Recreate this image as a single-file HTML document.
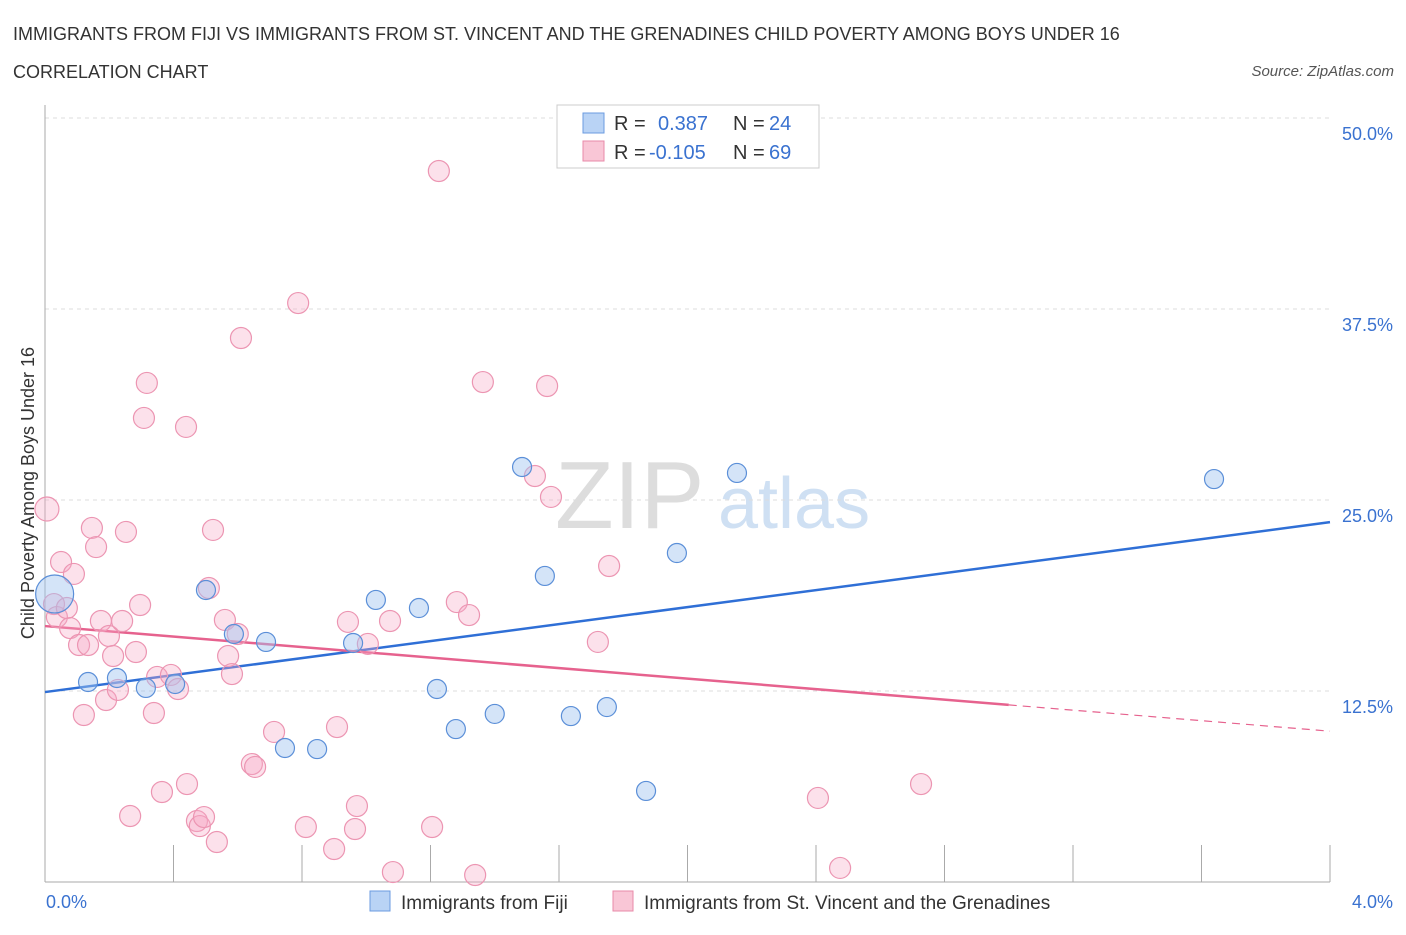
<!DOCTYPE html>
<html><head><meta charset="utf-8"><style>
body{margin:0;background:#fff;font-family:"Liberation Sans",sans-serif}
svg text{font-family:"Liberation Sans",sans-serif}
</style></head><body>
<svg id="chart" width="1406" height="930" xmlns="http://www.w3.org/2000/svg">
<text x="13" y="40" font-size="18" fill="#333">IMMIGRANTS FROM FIJI VS IMMIGRANTS FROM ST. VINCENT AND THE GRENADINES CHILD POVERTY AMONG BOYS UNDER 16</text>
<text x="13" y="78" font-size="18" fill="#333">CORRELATION CHART</text>
<text x="1394" y="76" font-size="15" fill="#555" font-style="italic" text-anchor="end">Source: ZipAtlas.com</text>
<g>
<text x="555" y="528" font-size="96" fill="#ddd" font-family="Liberation Serif, serif">ZIP</text>
<text x="718" y="528" font-size="72" fill="#cfe0f3">atlas</text>
</g>
<g id="grid"></g><g id="axes"></g><g id="lines"></g><g id="points"></g>
<g>
<rect x="557" y="105" width="262" height="63" fill="#fff" stroke="#ccc"/>
<rect x="583" y="113" width="21" height="20" fill="#b9d3f5" stroke="#6b9be0"/>
<rect x="583" y="141" width="21" height="20" fill="#f9c6d6" stroke="#e88aa8"/>
<text x="614" y="130" font-size="20" fill="#333">R = </text><text x="658" y="130" font-size="20" fill="#3a72d0">0.387</text>
<text x="733" y="130" font-size="20" fill="#333">N = </text><text x="769" y="130" font-size="20" fill="#3a72d0">24</text>
<text x="614" y="159" font-size="20" fill="#333">R = </text><text x="649" y="159" font-size="20" fill="#3a72d0">-0.105</text>
<text x="733" y="159" font-size="20" fill="#333">N = </text><text x="769" y="159" font-size="20" fill="#3a72d0">69</text>
</g>
<g>
<rect x="370" y="891" width="20" height="20" fill="#b9d3f5" stroke="#6b9be0"/>
<text x="401" y="909" font-size="19" fill="#333">Immigrants from Fiji</text>
<rect x="613" y="891" width="20" height="20" fill="#f9c6d6" stroke="#e88aa8"/>
<text x="644" y="909" font-size="19" fill="#333">Immigrants from St. Vincent and the Grenadines</text>
</g>
<text transform="translate(34,493) rotate(-90)" font-size="18" fill="#333" text-anchor="middle">Child Poverty Among Boys Under 16</text>
</svg>
<script>
const yTicks=[12.5,25,37.5,50];
const yTickLabels=["12.5%","25.0%","37.5%","50.0%"];
const xTickLabels=["0.0%","4.0%"];
const fijiX=[0.03,0.134,0.224,0.314,0.405,0.501,0.588,0.688,0.747,0.847,0.959,1.03,1.164,1.22,1.279,1.4,1.485,1.556,1.637,1.749,1.871,1.967,2.154,3.639];
const fijiY=[18.85,13.09,13.35,12.7,12.96,19.11,16.23,15.71,8.77,8.7,15.64,18.46,17.93,12.63,10.01,11.0,27.16,20.03,10.86,11.45,5.96,21.53,26.77,26.37];
const svgX=[0.006,0.028,0.037,0.05,0.068,0.078,0.09,0.106,0.121,0.134,0.146,0.159,0.174,0.19,0.199,0.212,0.227,0.24,0.252,0.265,0.283,0.296,0.308,0.317,0.339,0.349,0.364,0.392,0.414,0.439,0.442,0.473,0.482,0.495,0.51,0.523,0.535,0.56,0.57,0.582,0.6,0.61,0.644,0.654,0.713,0.788,0.812,0.9,0.909,0.943,0.965,0.971,1.005,1.074,1.083,1.205,1.226,1.282,1.32,1.339,1.363,1.525,1.563,1.575,1.721,1.756,2.406,2.475,2.727];
const svgY=[24.41,18.19,17.34,20.94,17.93,16.62,20.16,15.51,10.93,15.51,23.17,21.92,17.08,11.91,16.1,14.79,12.57,17.08,22.91,4.32,15.05,18.13,30.37,32.66,11.06,13.42,5.89,13.55,12.63,29.78,6.41,3.99,3.66,4.25,19.24,23.04,2.62,17.15,14.79,13.61,16.23,35.6,7.72,7.53,9.82,37.89,3.6,2.16,10.14,17.02,3.47,4.97,15.58,17.08,0.65,3.6,46.53,18.32,17.47,0.46,32.72,26.57,32.46,25.2,15.71,20.68,5.5,0.92,6.41];
const fijiTrend=[12.43,2.78];
const svgTrend=[16.75,-1.72];
const svgSolidEnd=3.0;
const NS="http://www.w3.org/2000/svg";
const X=v=>45+v/4*1285, Y=v=>882-v/50*764;
function mk(t,a,p){const e=document.createElementNS(NS,t);for(const k in a)e.setAttribute(k,a[k]);document.getElementById(p).appendChild(e);return e;}
yTicks.forEach((t,i)=>{
 const g=mk('line',{x1:45,x2:1330,y1:Y(t),y2:Y(t),stroke:'#ddd','stroke-dasharray':'4,4'},'grid');
 
 
 const l=mk('text',{x:1393,y:Y(t)+22,'font-size':18,fill:'#3a72d0','text-anchor':'end'},'axes');
 l.textContent=yTickLabels[i];
 
 
});
const ya=mk('line',{x1:45,x2:45,y1:105,y2:882,stroke:'#aaa'},'axes');


const xa=mk('line',{x1:45,x2:1330,y1:882,y2:882,stroke:'#aaa'},'axes');


for(let i=0;i<=10;i++){const t=mk('line',{x1:X(i*0.4),x2:X(i*0.4),y1:845,y2:882,stroke:'#aaa'},'axes');
 
 }
[[0,'start',46],[4,'end',1393]].forEach((d,i)=>{const t=mk('text',{x:d[2],y:908,'font-size':18,fill:'#3a72d0','text-anchor':d[1]},'axes');t.textContent=xTickLabels[i];
 
 });
svgX.forEach((x,i)=>{const c=mk('circle',{cx:X(x),cy:Y(svgY[i]),r:i==0?12:10.5,fill:'rgba(246,170,197,0.35)',stroke:'#ec95b2','stroke-width':1.2},'points');
 
 });
fijiX.forEach((x,i)=>{const c=mk('circle',{cx:X(x),cy:Y(fijiY[i]),r:i==0?19:9.5,fill:'rgba(160,195,240,0.45)',stroke:'#5b8fd8','stroke-width':1.2},'points');
 
 });
const fl=mk('line',{x1:X(0),y1:Y(fijiTrend[0]),x2:X(4),y2:Y(fijiTrend[0]+4*fijiTrend[1]),stroke:'#2f6fd6','stroke-width':2.5},'lines');


const sl=mk('line',{x1:X(0),y1:Y(svgTrend[0]),x2:X(svgSolidEnd),y2:Y(svgTrend[0]+svgSolidEnd*svgTrend[1]),stroke:'#e6628e','stroke-width':2.5},'lines');


const sd=mk('line',{x1:X(svgSolidEnd),y1:Y(svgTrend[0]+svgSolidEnd*svgTrend[1]),x2:X(4),y2:Y(svgTrend[0]+4*svgTrend[1]),stroke:'#e6628e','stroke-width':1.2,'stroke-dasharray':'8,6'},'lines');


</script>
</body></html>
